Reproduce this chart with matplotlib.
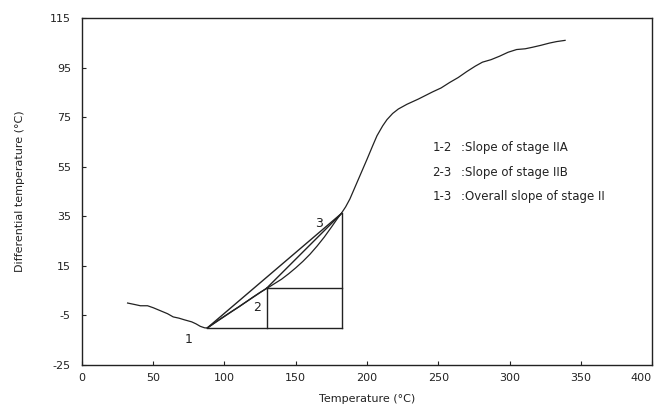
import numpy as np
import matplotlib.pyplot as plt

# DTA curve
temp = [32, 37, 41, 46, 50, 55, 60, 64, 68, 72, 77, 80, 83, 86, 88,
        94, 100, 105, 110, 115, 120, 125, 130, 135, 140, 145, 150, 155, 160,
        165, 170, 175, 179, 182, 185, 188, 191, 194, 197, 200, 204, 207, 211,
        214, 218, 222, 228, 236, 246, 252, 258, 264, 270, 276, 281, 287, 293,
        299, 305, 311, 316, 322, 328, 333, 339]
dtemp = [0.0, -0.6, -1.1, -1.1, -1.9, -3.1, -4.3, -5.6, -6.1, -6.8, -7.6, -8.4, -9.4, -10.0, -10.1,
         -7.6, -5.3, -3.4, -1.6, 0.4, 2.4, 4.3, 6.0, 7.8, 9.6, 11.8, 14.2, 16.8, 19.7,
         23.0, 26.6, 30.6, 33.9, 36.2, 38.8, 42.0, 46.0, 50.0, 54.0, 58.0, 63.5, 67.5, 71.5,
         74.0, 76.5, 78.3, 80.2, 82.3, 85.2, 86.8, 89.0, 91.0, 93.4, 95.6, 97.2, 98.2, 99.6,
         101.2, 102.3, 102.6, 103.2, 104.0, 104.9, 105.5, 106.0]

# characteristic points 1, 2, 3
pt_t = [88, 129.6, 182.2]
pt_d = [-10.0, 6.0, 36.2]
pt_names = ['1', '2', '3']
lbl_t = [74.5, 123, 166]
lbl_d = [-14.8, -2, 32]

legend_lines = [('1-2', ':Slope of stage IIA'),
                ('2-3', ':Slope of stage IIB'),
                ('1-3', ':Overall slope of stage II')]

xticks = np.arange(0, 401, 50)
yticks = np.arange(-25, 116, 20)

plt.rcParams['font.family'] = ['DejaVu Sans']
plt.rcParams['axes.unicode_minus'] = False
ink = '#222222'

fig = plt.figure(figsize=(6.57, 4.2), dpi=100)
ax = fig.add_axes([0.1248, 0.131, 0.8676, 0.826])

ax.plot(temp, dtemp, color=ink, lw=0.9)

# slope lines 1-2, 2-3, 1-3
for i, j in [(0, 1), (1, 2), (0, 2)]:
    ax.plot([pt_t[i], pt_t[j]], [pt_d[i], pt_d[j]], color=ink, lw=1.0)

# construction boxes
ax.plot([pt_t[0], pt_t[2]], [pt_d[0], pt_d[0]], color=ink, lw=1.0)
ax.plot([pt_t[1], pt_t[1]], [pt_d[0], pt_d[1]], color=ink, lw=1.0)
ax.plot([pt_t[1], pt_t[2]], [pt_d[1], pt_d[1]], color=ink, lw=1.0)
ax.plot([pt_t[2], pt_t[2]], [pt_d[0], pt_d[2]], color=ink, lw=1.0)

for name, tx, ty in zip(pt_names, lbl_t, lbl_d):
    ax.text(tx, ty, name, ha='center', va='center', fontsize=9, color=ink)

for k, (a, b) in enumerate(legend_lines):
    yy = 62.6 - k * 9.9
    ax.text(246, yy, a, ha='left', va='center', fontsize=8.5, color=ink)
    ax.text(266, yy, b, ha='left', va='center', fontsize=8.5, color=ink)

ax.set_xlim(0, 400)
ax.set_ylim(-25, 115)
ax.set_xticks(xticks)
ax.set_yticks(yticks)
ax.tick_params(direction='in', length=3, width=0.8, labelsize=8, colors=ink,
               top=False, right=False)
ax.tick_params(axis='x', pad=6)
ax.tick_params(axis='y', pad=8)
ax.get_xticklabels()[-1].set_horizontalalignment('right')
for s in ax.spines.values():
    s.set_color(ink)
    s.set_linewidth(1.0)

ax.set_xlabel('Temperature (°C)', fontsize=8, color=ink, labelpad=8)
ax.set_ylabel('Differential temperature (°C)', fontsize=8, color=ink, labelpad=18)

fig.savefig('out.png', dpi=100)
